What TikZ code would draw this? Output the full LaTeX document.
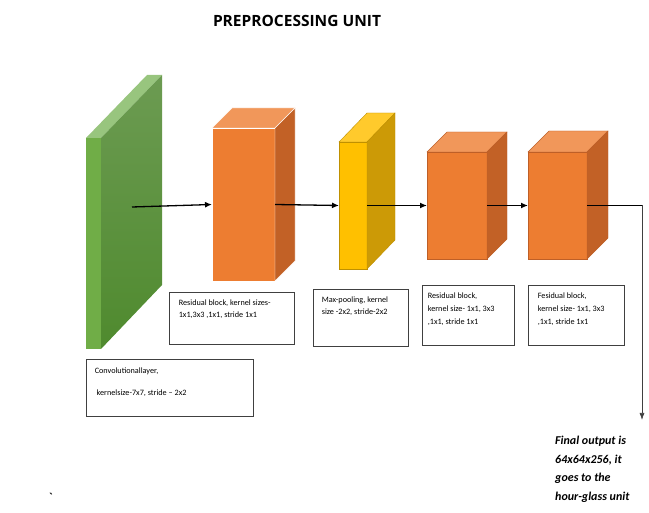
\documentclass[tikz,border=0pt]{standalone}
\usepackage{fontspec}
\setmainfont{Carlito}
\newfontfamily\titlefont{Open Sans}
\usetikzlibrary{arrows.meta,positioning}

\definecolor{convfront}{HTML}{70AD47}
\definecolor{convtop}{HTML}{98C57E}
\definecolor{convsidetop}{HTML}{6C9B52}
\definecolor{convsidebot}{HTML}{4F8A2E}
\definecolor{resfront}{HTML}{ED7D31}
\definecolor{restop}{HTML}{F1975A}
\definecolor{resside}{HTML}{C26126}
\definecolor{resedge}{HTML}{BE5F27}
\definecolor{poolfront}{HTML}{FFC000}
\definecolor{pooltop}{HTML}{FFCA2C}
\definecolor{poolside}{HTML}{CC9A06}
\definecolor{pooledge}{HTML}{BF9000}
\definecolor{boxline}{HTML}{404040}

\begin{document}
\begin{tikzpicture}[x=1pt,y=-1pt,
    face/.style={inner sep=0pt,outer sep=0pt},
    flow/.style={-{Latex[length=7pt,width=6pt]},line width=1.3pt,black},
    infobox/.style={draw=boxline,line width=0.8pt,inner sep=0pt},
    boxtext/.style={anchor=north west,inner sep=0pt,align=left,font=\fontsize{8.2}{12}\selectfont}]
    \useasboundingbox (0,0) rectangle (649,513);

    % title
    \node[font=\titlefont\bfseries\fontsize{15.5}{18}\selectfont] (title) at (297,21) {PREPROCESSING UNIT};

    % convolutional layer
    \node[face,fill=convfront,minimum width=15pt,minimum height=211pt] (conv) at (93.5,243.5) {};
    \fill[convtop] (conv.north west) -- ++(61,-63) -- ++(15,0) -- (conv.north east) -- cycle;
    \shade[top color=convsidetop,bottom color=convsidebot] (conv.north east) -- ++(61,-63) -- ++(0,210) -- (conv.south east) -- cycle;
    \coordinate (convmid) at (132,207);

    % residual block 1
    \node[face,fill=resfront,draw=white,minimum width=63pt,minimum height=153pt] (res1) at (243.5,204.5) {};
    \filldraw[fill=restop,draw=white] (res1.north west) -- ++(20,-20) -- ++(63,0) -- (res1.north east) -- cycle;
    \filldraw[fill=resside,draw=white] (res1.north east) -- ++(20,-20) -- ++(0,153) -- (res1.south east) -- cycle;

    % max-pooling
    \node[face,fill=poolfront,draw=pooledge,minimum width=28pt,minimum height=127pt] (pool) at (353,205.5) {};
    \filldraw[fill=pooltop,draw=pooledge] (pool.north west) -- ++(28,-29) -- ++(28,0) -- (pool.north east) -- cycle;
    \filldraw[fill=poolside,draw=pooledge] (pool.north east) -- ++(28,-29) -- ++(0,127) -- (pool.south east) -- cycle;

    % residual block 2
    \node[face,fill=resfront,draw=resedge,minimum width=60pt,minimum height=107pt] (res2) at (457,205.5) {};
    \filldraw[fill=restop,draw=resedge] (res2.north west) -- ++(20,-20) -- ++(60,0) -- (res2.north east) -- cycle;
    \filldraw[fill=resside,draw=resedge] (res2.north east) -- ++(20,-20) -- ++(0,107) -- (res2.south east) -- cycle;

    % residual block 3
    \node[face,fill=resfront,draw=resedge,minimum width=59pt,minimum height=107pt] (res3) at (557.5,205.5) {};
    \filldraw[fill=restop,draw=resedge] (res3.north west) -- ++(21,-21) -- ++(59,0) -- (res3.north east) -- cycle;
    \filldraw[fill=resside,draw=resedge] (res3.north east) -- ++(21,-21) -- ++(0,107) -- (res3.south east) -- cycle;

    % connections
    \draw[flow] (convmid) -- (res1.west);
    \foreach \from/\to in {res1/pool,pool/res2,res2/res3}
    \draw[flow] (\from.east) -- (\to.west);

    \coordinate (outend) at (642,420);
    \draw[line width=1.3pt] (res3.east) -- (res3.east -| outend) coordinate (outcorner);
    \draw[-{Latex[length=7pt,width=5pt]},gray!50!black,line width=0.7pt] (outcorner) -- (outend);

    % label boxes
    \node[infobox,minimum width=125pt,minimum height=52pt] (res1box) at (231.5,318) {};
    \node[infobox,minimum width=95pt,minimum height=57pt] (poolbox) at (360.5,317.5) {};
    \node[infobox,minimum width=167pt,minimum height=57pt] (convbox) at (169.5,387.5) {};
    \node[infobox,minimum width=92pt,minimum height=60pt] (res2box) at (468,315) {};
    \node[infobox,minimum width=96pt,minimum height=60pt] (res3box) at (576,315) {};

    % label
    \node[boxtext] (res1text) at ([shift={(10,8)}]res1box.north west) {Residual block, kernel sizes-\\1x1,3x3 ,1x1, stride 1x1};
    \node[boxtext] (pooltext) at ([shift={(9,8)}]poolbox.north west) {Max-pooling, kernel\\size -2x2, stride-2x2};
    \node[boxtext] (convtext) at ([shift={(9,9)}]convbox.north west) {Convolutionallayer,\\[10pt]\ kernelsize-7x7, stride -- 2x2};
    \node[boxtext,font=\fontsize{8.2}{13}\selectfont] (res2text) at ([shift={(6,8)}]res2box.north west) {Residual block,\\kernel size- 1x1, 3x3\\,1x1, stride 1x1};
    \node[boxtext,font=\fontsize{8.2}{13}\selectfont] (res3text) at ([shift={(10,8)}]res3box.north west) {Fesidual block,\\kernel size- 1x1, 3x3\\,1x1, stride 1x1};

    \node[anchor=north west,inner sep=0pt,align=left,font=\bfseries\itshape\fontsize{12}{18.5}\selectfont] (final) at (555,436) {Final output is\\64x64x256, it\\goes to the\\hour-glass unit};
    \node[font=\bfseries\fontsize{12}{12}\selectfont] (mark) at (51,497) {\textasciigrave};
\end{tikzpicture}
\end{document}
